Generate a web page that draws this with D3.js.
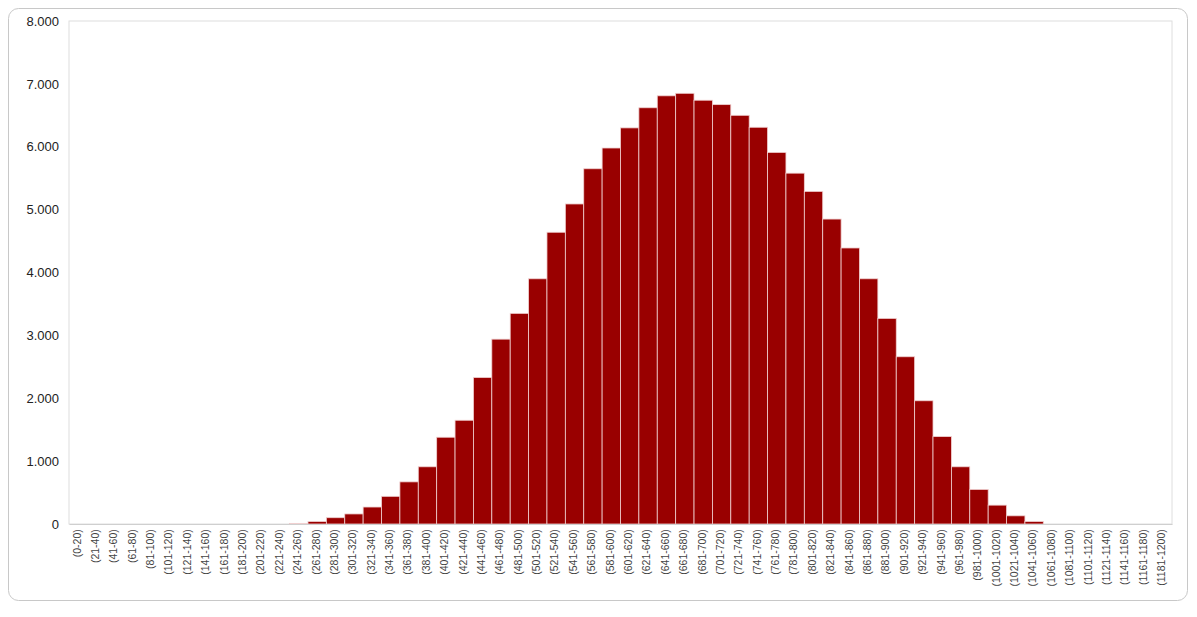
<!DOCTYPE html>
<html>
<head>
<meta charset="utf-8">
<script src="https://cdn.jsdelivr.net/npm/d3@7"></script>
<style>
  body { margin: 0; background: #fff; font-family: "Liberation Sans", Arial, sans-serif; }
</style>
</head>
<body>
<svg id="chart" width="1197" height="617"></svg>
<script>
// bin labels and counts
var bins = [];
for (var i = 0; i < 60; i++) {
  bins.push("(" + (i === 0 ? 0 : i * 20 + 1) + "-" + (i + 1) * 20 + ")");
}
var counts = [0, 0, 0, 0, 0, 0, 0, 0, 0, 0, 0, 0,
  10, 40, 100, 160, 270, 440, 670, 910, 1380, 1650, 2330, 2940, 3350, 3900,
  4640, 5090, 5650, 5980, 6300, 6620, 6810, 6850, 6740, 6670, 6500, 6310,
  5910, 5580, 5290, 4850, 4390, 3900, 3270, 2660, 1960, 1390, 910, 550,
  300, 130, 40, 0, 0, 0, 0, 0, 0, 0];
var yTicks = [0, 1000, 2000, 3000, 4000, 5000, 6000, 7000, 8000];

var svg = d3.select("#chart");

// card frame
svg.append("rect")
  .attr("x", 8.5).attr("y", 8.5)
  .attr("width", 1179).attr("height", 592)
  .attr("rx", 10)
  .attr("fill", "#fff")
  .attr("stroke", "#c8c8c8");

var plotLeft = 69, plotRight = 1172, plotTop = 21, plotBottom = 524;

var x = d3.scaleBand().domain(bins).range([plotLeft, plotRight]).padding(0);
var y = d3.scaleLinear().domain([0, 8000]).range([plotBottom, plotTop]);

// plot border
svg.append("rect")
  .attr("x", plotLeft).attr("y", plotTop)
  .attr("width", plotRight - plotLeft).attr("height", plotBottom - plotTop)
  .attr("fill", "none")
  .attr("stroke", "#dedede");

svg.append("g")
  .selectAll("rect")
  .data(counts)
  .enter()
  .append("rect")
  .attr("x", (d, i) => x(bins[i]))
  .attr("y", d => y(d))
  .attr("width", x.bandwidth())
  .attr("height", d => plotBottom - y(d))
  .attr("fill", "#990000")
  .attr("stroke", d => d > 0 ? "#f0d0d0" : "none")
  .attr("stroke-width", 0.8);

// y axis
var yAxis = svg.append("g")
  .attr("transform", "translate(" + plotLeft + ",0)")
  .call(d3.axisLeft(y).tickValues(yTicks).tickSize(0).tickPadding(10)
    .tickFormat(d => d3.format(",")(d).replace(/,/g, ".")));
yAxis.select(".domain").remove();
yAxis.selectAll("text").attr("font-size", 13).attr("fill", "#222");

// x axis
var xAxis = svg.append("g")
  .attr("transform", "translate(0," + plotBottom + ")")
  .call(d3.axisBottom(x).tickSize(0).tickPadding(6));
xAxis.select(".domain").attr("stroke", "#cfcfcf");
xAxis.selectAll("text")
  .attr("font-size", 10.5)
  .attr("fill", "#444")
  .attr("transform", "rotate(-90)")
  .attr("text-anchor", "end")
  .attr("dx", "-0.5em")
  .attr("dy", "-0.35em");
</script>
</body>
</html>
